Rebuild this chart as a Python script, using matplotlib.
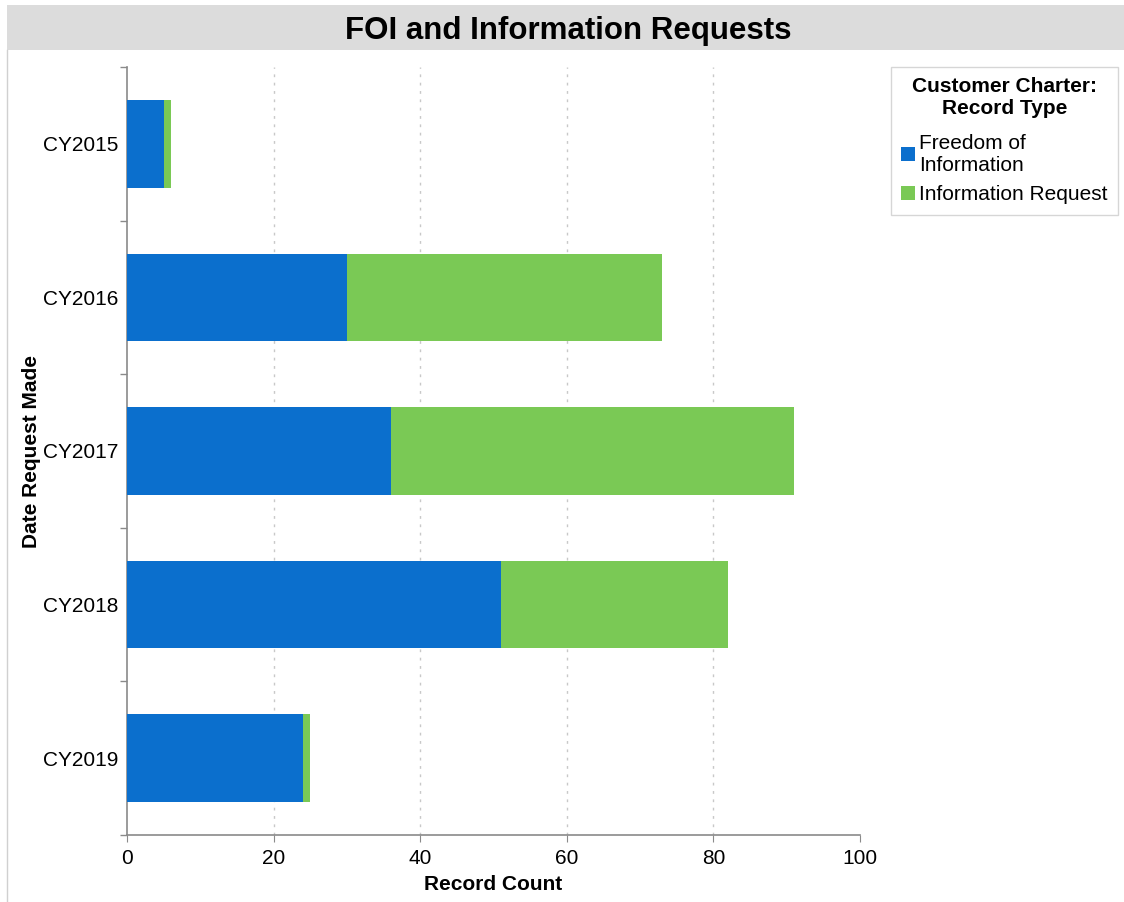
import numpy as np
import matplotlib.pyplot as plt
from matplotlib.patches import Rectangle

plt.rcParams['font.family'] = ['Liberation Sans', 'DejaVu Sans']

years = ['CY2015', 'CY2016', 'CY2017', 'CY2018', 'CY2019']
foi_counts = [5, 30, 36, 51, 24]
info_counts = [1, 43, 55, 31, 1]

BLUE = '#0b6fcd'
GREEN = '#7ac955'
GREY = '#8a8a8a'

fig = plt.figure(figsize=(11.24, 9.02), dpi=100)

# header band and frame
fig.patches.append(Rectangle((7 / 1124, 1 - 50 / 902), 1 - 7 / 1124, 45 / 902,
                             transform=fig.transFigure, facecolor='#dcdcdc',
                             edgecolor='none', zorder=0))
fig.lines.append(plt.Line2D([7 / 1124, 7 / 1124], [0, 1 - 50 / 902],
                            transform=fig.transFigure, color='#d0d0d0', lw=1))
fig.text(0.506, 1 - 31 / 902, 'FOI and Information Requests', ha='center',
         va='center', fontsize=22.5, fontweight='bold')

ax = fig.add_axes([127 / 1124, 1 - 835 / 902, (860 - 127) / 1124, (835 - 67) / 902])

y = np.arange(len(years))
h = 0.57
ax.barh(y, foi_counts, height=h, color=BLUE, label='Freedom of\nInformation', zorder=3)
ax.barh(y, info_counts, left=foi_counts, height=h, color=GREEN,
        label='Information Request', zorder=3)

ax.set_xlim(0, 100)
ax.set_ylim(len(years) - 0.5, -0.5)
ax.set_xticks(np.arange(0, 101, 20))
ax.set_yticks(y)
ax.set_yticklabels(years)
ax.set_yticks(np.arange(-0.5, len(years)), minor=True)
ax.tick_params(axis='y', which='major', length=0, pad=6, labelsize=15)
ax.tick_params(axis='y', which='minor', length=5, color=GREY, width=1)
ax.tick_params(axis='x', length=5, color=GREY, labelsize=15, pad=5)

for v in [20, 40, 60, 80]:
    ax.axvline(v, color='#c8c8c8', lw=1, ls=(0, (2, 4)), zorder=1)

for side in ['top', 'right']:
    ax.spines[side].set_visible(False)
for side in ['left', 'bottom']:
    ax.spines[side].set_color(GREY)
    ax.spines[side].set_linewidth(1.2)

ax.set_xlabel('Record Count', fontsize=15, fontweight='bold', labelpad=5)
ax.set_ylabel('Date Request Made', fontsize=15, fontweight='bold')
ax.yaxis.set_label_coords(-0.118, 0.5)

leg = ax.legend(loc='upper left', bbox_to_anchor=(1.042, 1.0),
                title='Customer Charter:\nRecord Type', fontsize=15,
                title_fontproperties={'weight': 'bold', 'size': 15},
                frameon=True, fancybox=False, handlelength=0.65,
                handleheight=0.65, handletextpad=0.2, borderpad=0.5,
                borderaxespad=0, labelspacing=0.5)
leg.get_title().set_multialignment('center')
# extra room between the title and the entries
leg._legend_box.sep = 11
leg.get_frame().set_edgecolor('#cccccc')
leg.get_frame().set_linewidth(1)

fig.savefig('out.png', dpi=100)
